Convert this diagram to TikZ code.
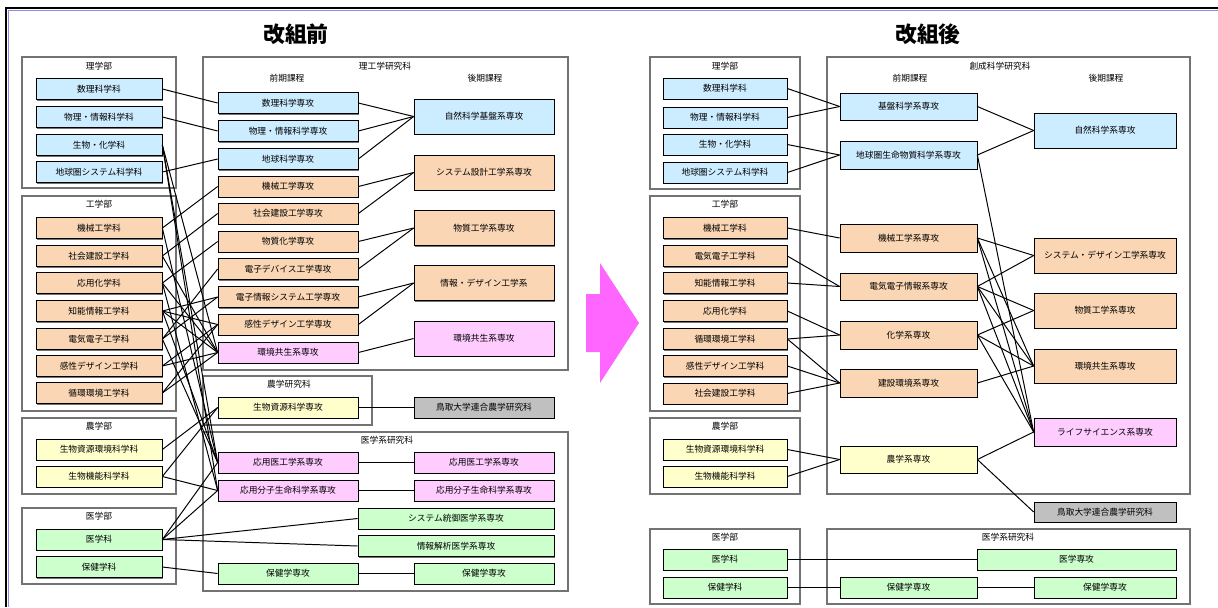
\documentclass[tikz,border=0pt]{standalone}
\usepackage{fontspec}
\setmainfont{Noto Sans CJK JP}
\usetikzlibrary{shadows}

\definecolor{cblue}{RGB}{204,236,255}
\definecolor{corange}{RGB}{250,214,180}
\definecolor{cpink}{RGB}{255,204,255}
\definecolor{cyellow}{RGB}{255,255,204}
\definecolor{cgreen}{RGB}{204,255,204}
\definecolor{cgray}{RGB}{192,192,192}
\definecolor{cmag}{RGB}{255,102,255}
\definecolor{cframe}{RGB}{140,140,230}

\begin{document}
\begin{tikzpicture}[x=0.25mm, y=-0.25mm,
  box/.style={draw, line width=0.5pt, inner sep=0pt, minimum height=5.25mm,
    font=\fontsize{6.2}{7}\selectfont,
    general shadow={fill=black!55, shadow xshift=0.3mm, shadow yshift=-0.3mm}},
  blu/.style={box, fill=cblue}, ora/.style={box, fill=corange},
  pnk/.style={box, fill=cpink}, ylw/.style={box, fill=cyellow},
  grn/.style={box, fill=cgreen}, gry/.style={box, fill=cgray},
  dep/.style={minimum width=31.5mm}, mid/.style={minimum width=35mm},
  grp/.style={draw=black!55, line width=0.8pt},
  lbl/.style={font=\fontsize{6.2}{7}\selectfont},
  ttl/.style={font=\fontsize{15.5}{18}\selectfont\bfseries},
  edge/.style={line width=0.7pt}]
\useasboundingbox (0,0) rectangle (1218,607);
% outer frame
\draw[cframe, line width=0.6pt] (8,607) -- (8,10) -- (1218,10);
\draw[line width=0.9pt] (6,607) -- (6,8) -- (1218,8);
\fill[cmag] (586,294) -- (600,294) -- (600,263) -- (639,323) -- (600,383) -- (600,352) -- (586,352) -- cycle;

%% before
\node[ttl] (t1) at (296,34) {改組前};
\draw[grp] (22,57) rectangle (176,188);
\draw[grp] (22,196) rectangle (176,411);
\draw[grp] (22,418) rectangle (176,494);
\draw[grp] (22,508) rectangle (176,584);
\draw[grp] (203,57) rectangle (568,370);
\draw[grp] (203,376) rectangle (372,425);
\draw[grp] (203,432) rectangle (568,591);
\node[lbl] at (99,66) {理学部};
\node[lbl] at (99,204) {工学部};
\node[lbl] at (99,426) {農学部};
\node[lbl] at (99,516) {医学部};
\node[lbl] at (385,66) {理工学研究科};
\node[lbl] at (287,78) {前期課程};
\node[lbl] at (485,78) {後期課程};
\node[lbl] at (289,384) {農学研究科};
\node[lbl] at (387,440) {医学系研究科};

\node[blu, dep] (ls1) at (99,89) {数理科学科};
\node[blu, dep] (ls2) at (99,117) {物理・情報科学科};
\node[blu, dep] (ls3) at (99,145) {生物・化学科};
\node[blu, dep] (ls4) at (99,172) {地球圏システム科学科};
\node[ora, dep] (le1) at (99,228) {機械工学科};
\node[ora, dep] (le2) at (99,256) {社会建設工学科};
\node[ora, dep] (le3) at (99,283) {応用化学科};
\node[ora, dep] (le4) at (99,311) {知能情報工学科};
\node[ora, dep] (le5) at (99,339) {電気電子工学科};
\node[ora, dep] (le6) at (99,366) {感性デザイン工学科};
\node[ora, dep] (le7) at (99,393) {循環環境工学科};
\node[ylw, dep] (la1) at (99,449.5) {生物資源環境科学科};
\node[ylw, dep] (la2) at (99,476.5) {生物機能科学科};
\node[grn, dep] (lm1) at (99,539.5) {医学科};
\node[grn, dep] (lm2) at (99,567) {保健学科};

\node[blu, mid] (m1) at (288,103) {数理科学専攻};
\node[blu, mid] (m2) at (288,131) {物理・情報科学専攻};
\node[blu, mid] (m3) at (288,159) {地球科学専攻};
\node[ora, mid] (m4) at (288,186.5) {機械工学専攻};
\node[ora, mid] (m5) at (288,213.5) {社会建設工学専攻};
\node[ora, mid] (m6) at (288,241.5) {物質化学専攻};
\node[ora, mid] (m7) at (288,269) {電子デバイス工学専攻};
\node[ora, mid] (m8) at (288,297) {電子情報システム工学専攻};
\node[ora, mid] (m9) at (288,324.5) {感性デザイン工学専攻};
\node[pnk, mid] (m10) at (288,352.5) {環境共生系専攻};
\node[ylw, mid] (m11) at (288,407.5) {生物資源科学専攻};
\node[pnk, mid] (m12) at (288,462.5) {応用医工学系専攻};
\node[pnk, mid] (m13) at (288,490.5) {応用分子生命科学系専攻};
\node[grn, minimum width=49mm] (m14) at (456,518.5) {システム統御医学系専攻};
\node[grn, minimum width=49mm] (m15) at (456,546) {情報解析医学系専攻};
\node[grn, mid] (m16) at (288,573.5) {保健学専攻};

\node[blu, mid, minimum height=8.75mm] (b1) at (484,116.5) {自然科学基盤系専攻};
\node[ora, mid, minimum height=8.75mm] (b2) at (484,172.5) {システム設計工学系専攻};
\node[ora, mid, minimum height=8.75mm] (b3) at (484,228) {物質工学系専攻};
\node[ora, mid, minimum height=8.75mm] (b4) at (484,283) {情報・デザイン工学系};
\node[pnk, mid, minimum height=8.75mm] (b5) at (484,338.5) {環境共生系専攻};
\node[gry, mid] (b6) at (484,407.5) {鳥取大学連合農学研究科};
\node[pnk, mid] (b7) at (484,462.5) {応用医工学系専攻};
\node[pnk, mid] (b8) at (484,490.5) {応用分子生命科学系専攻};
\node[grn, mid] (b9) at (484,573.5) {保健学専攻};

\draw[edge] (ls1.east) -- (m1.west);
\draw[edge] (ls2.east) -- (m2.west);
\draw[edge] (ls4.east) -- (m3.west);
\draw[edge] (ls3.east) -- (m10.west);
\draw[edge] (ls3.east) -- (m12.west);
\draw[edge] (ls3.east) -- (m13.west);
\draw[edge] (le1.east) -- (m4.west);
\draw[edge] (le1.east) -- (m12.west);
\draw[edge] (le2.east) -- (m5.west);
\draw[edge] (le2.east) -- (m10.west);
\draw[edge] (le3.east) -- (m6.west);
\draw[edge] (le3.east) -- (m10.west);
\draw[edge] (le3.east) -- (m13.west);
\draw[edge] (le4.east) -- (m8.west);
\draw[edge] (le4.east) -- (m9.west);
\draw[edge] (le4.east) -- (m10.west);
\draw[edge] (le4.east) -- (m12.west);
\draw[edge] (le5.east) -- (m7.west);
\draw[edge] (le5.east) -- (m8.west);
\draw[edge] (le5.east) -- (m12.west);
\draw[edge] (le6.east) -- (m9.west);
\draw[edge] (le6.east) -- (m10.west);
\draw[edge] (le7.east) -- (m9.west);
\draw[edge] (le7.east) -- (m10.west);
\draw[edge] (la1.east) -- (m11.west);
\draw[edge] (la2.east) -- (m11.west);
\draw[edge] (la2.east) -- (m13.west);
\draw[edge] (lm1.east) -- (m12.west);
\draw[edge] (lm1.east) -- (m13.west);
\draw[edge] (lm1.east) -- (m14.west);
\draw[edge] (lm1.east) -- (m15.west);
\draw[edge] (lm2.east) -- (m16.west);
\draw[edge] (m1.east) -- (b1.west);
\draw[edge] (m2.east) -- (b1.west);
\draw[edge] (m3.east) -- (b1.west);
\draw[edge] (m4.east) -- (b2.west);
\draw[edge] (m5.east) -- (b2.west);
\draw[edge] (m6.east) -- (b3.west);
\draw[edge] (m7.east) -- (b3.west);
\draw[edge] (m8.east) -- (b4.west);
\draw[edge] (m9.east) -- (b4.west);
\draw[edge] (m10.east) -- (b5.west);
\draw[edge] (m11.east) -- (b6.west);
\draw[edge] (m12.east) -- (b7.west);
\draw[edge] (m13.east) -- (b8.west);
\draw[edge] (m16.east) -- (b9.west);

%% after
\node[ttl] (t2) at (928,34) {改組後};
\draw[grp] (650,57) rectangle (800,189);
\draw[grp] (650,196) rectangle (800,411);
\draw[grp] (650,418) rectangle (800,494);
\draw[grp] (650,529) rectangle (800,604);
\draw[grp] (827,57) rectangle (1190,494);
\draw[grp] (827,529) rectangle (1190,604);
\node[lbl] at (725,66) {理学部};
\node[lbl] at (725,204) {工学部};
\node[lbl] at (725,426) {農学部};
\node[lbl] at (725,537) {医学部};
\node[lbl] at (1000,66) {創成科学研究科};
\node[lbl] at (910,78) {前期課程};
\node[lbl] at (1106,78) {後期課程};
\node[lbl] at (1008,537) {医学系研究科};

\node[blu, minimum width=31mm] (rs1) at (725,88.5) {数理科学科};
\node[blu, minimum width=31mm] (rs2) at (725,117.5) {物理・情報科学科};
\node[blu, minimum width=31mm] (rs3) at (725,144.5) {生物・化学科};
\node[blu, minimum width=31mm] (rs4) at (725,172.5) {地球圏システム科学科};
\node[ora, minimum width=31mm] (re1) at (725,228) {機械工学科};
\node[ora, minimum width=31mm] (re2) at (725,256) {電気電子工学科};
\node[ora, minimum width=31mm] (re3) at (725,283) {知能情報工学科};
\node[ora, minimum width=31mm] (re4) at (725,311) {応用化学科};
\node[ora, minimum width=31mm] (re5) at (725,339) {循環環境工学科};
\node[ora, minimum width=31mm] (re6) at (725,366) {感性デザイン工学科};
\node[ora, minimum width=31mm] (re7) at (725,393.5) {社会建設工学科};
\node[ylw, minimum width=31mm] (ra1) at (725,449.5) {生物資源環境科学科};
\node[ylw, minimum width=31mm] (ra2) at (725,476.5) {生物機能科学科};
\node[grn, minimum width=31mm] (rm1) at (725,559.5) {医学科};
\node[grn, minimum width=31mm] (rm2) at (725,587.5) {保健学科};

\node[blu, minimum width=34.25mm, minimum height=6.75mm] (f1) at (908.5,106.5) {基盤科学系専攻};
\node[blu, minimum width=34.25mm, minimum height=7mm] (f2) at (908.5,155) {地球圏生命物質科学系専攻};
\node[ora, minimum width=34.25mm, minimum height=7mm] (f3) at (908.5,238) {機械工学系専攻};
\node[ora, minimum width=34.25mm, minimum height=6.75mm] (f4) at (908.5,286.5) {電気電子情報系専攻};
\node[ora, minimum width=34.25mm, minimum height=7mm] (f5) at (908.5,335) {化学系専攻};
\node[ora, minimum width=34.25mm, minimum height=7mm] (f6) at (908.5,383) {建設環境系専攻};
\node[ylw, minimum width=34.25mm, minimum height=6.75mm] (f7) at (908.5,459.5) {農学系専攻};
\node[grn, minimum width=49.75mm] (f8) at (1076.5,559.5) {医学専攻};
\node[grn, minimum width=34.25mm] (f9) at (908.5,587.5) {保健学専攻};

\node[blu, minimum width=35.5mm, minimum height=8.75mm] (g1) at (1105,130.5) {自然科学系専攻};
\node[ora, minimum width=35.5mm, minimum height=8.75mm] (g2) at (1105,255.5) {システム・デザイン工学系専攻};
\node[ora, minimum width=35.5mm, minimum height=8.75mm] (g3) at (1105,310.5) {物質工学系専攻};
\node[ora, minimum width=35.5mm, minimum height=8.5mm] (g4) at (1105,366) {環境共生系専攻};
\node[pnk, minimum width=35.5mm, minimum height=7mm] (g5) at (1105,432) {ライフサイエンス系専攻};
\node[gry, minimum width=35.5mm, minimum height=5mm] (g6) at (1105,512) {鳥取大学連合農学研究科};
\node[grn, minimum width=35.5mm] (g7) at (1105,587.5) {保健学専攻};

\draw[edge] (rs1.east) -- (f1.west);
\draw[edge] (rs2.east) -- (f1.west);
\draw[edge] (rs3.east) -- (f2.west);
\draw[edge] (rs4.east) -- (f2.west);
\draw[edge] (re1.east) -- (f3.west);
\draw[edge] (re2.east) -- (f4.west);
\draw[edge] (re3.east) -- (f4.west);
\draw[edge] (re4.east) -- (f5.west);
\draw[edge] (re5.east) -- (f5.west);
\draw[edge] (re5.east) -- (f6.west);
\draw[edge] (re6.east) -- (f6.west);
\draw[edge] (re7.east) -- (f6.west);
\draw[edge] (ra1.east) -- (f7.west);
\draw[edge] (ra2.east) -- (f7.west);
\draw[edge] (rm1.east) -- (f8.west);
\draw[edge] (rm2.east) -- (f9.west);
\draw[edge] (f1.east) -- (g1.west);
\draw[edge] (f2.east) -- (g1.west);
\draw[edge] (f2.east) -- (g5.west);
\draw[edge] (f3.east) -- (g2.west);
\draw[edge] (f3.east) -- (g4.west);
\draw[edge] (f3.east) -- (g5.west);
\draw[edge] (f4.east) -- (g2.west);
\draw[edge] (f4.east) -- (g3.west);
\draw[edge] (f4.east) -- (g4.west);
\draw[edge] (f4.east) -- (g5.west);
\draw[edge] (f5.east) -- (g3.west);
\draw[edge] (f5.east) -- (g4.west);
\draw[edge] (f5.east) -- (g5.west);
\draw[edge] (f6.east) -- (g4.west);
\draw[edge] (f7.east) -- (g5.west);
\draw[edge] (f7.east) -- (g6.west);
\draw[edge] (f9.east) -- (g7.west);
\end{tikzpicture}
\end{document}
